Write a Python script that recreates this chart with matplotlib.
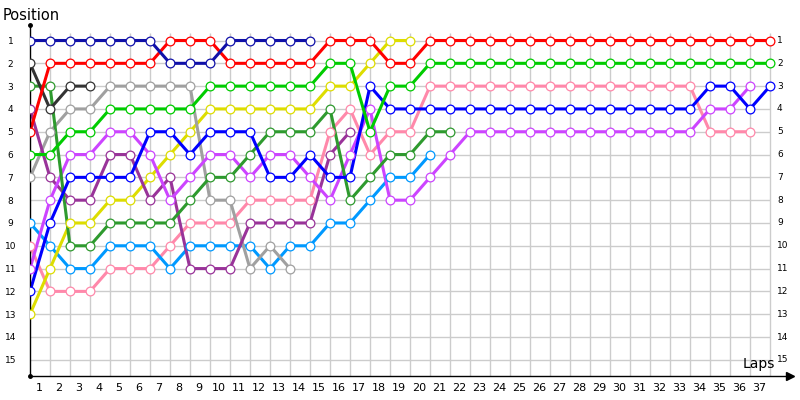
import matplotlib
matplotlib.use("Agg")
import matplotlib.pyplot as plt
import matplotlib.transforms as mtransforms

# race positions per driver, index = lap (0 = grid)
navy = [1, 1, 1, 1, 1, 1, 1, 2, 2, 2, 1, 1, 1, 1, 1]
red = [5, 2, 2, 2, 2, 2, 2, 1, 1, 1, 2, 2, 2, 2, 2, 1, 1, 1, 2, 2,
       1, 1, 1, 1, 1, 1, 1, 1, 1, 1, 1, 1, 1, 1, 1, 1, 1, 1]
dark_grey = [2, 4, 3, 3]
green = [6, 6, 5, 5, 4, 4, 4, 4, 4, 3, 3, 3, 3, 3, 3, 2, 2, 5, 3, 3,
         2, 2, 2, 2, 2, 2, 2, 2, 2, 2, 2, 2, 2, 2, 2, 2, 2, 2]
forest = [3, 3, 10, 10, 9, 9, 9, 9, 8, 7, 7, 6, 5, 5, 5, 4, 8, 7, 6, 6, 5, 5]
grey = [7, 5, 4, 4, 3, 3, 3, 3, 3, 8, 8, 11, 10, 11]
purple = [4, 7, 8, 8, 6, 6, 8, 7, 11, 11, 11, 9, 9, 9, 9, 6, 5]
violet = [11, 8, 6, 6, 5, 5, 6, 8, 7, 6, 6, 7, 6, 6, 7, 8, 6, 4, 8, 8,
          7, 6, 5, 5, 5, 5, 5, 5, 5, 5, 5, 5, 5, 5, 4, 4, 3]
blue = [12, 9, 7, 7, 7, 7, 5, 5, 6, 5, 5, 5, 7, 7, 6, 7, 7, 3, 4, 4,
        4, 4, 4, 4, 4, 4, 4, 4, 4, 4, 4, 4, 4, 4, 3, 3, 4, 3]
yellow = [13, 11, 9, 9, 8, 8, 7, 6, 5, 4, 4, 4, 4, 4, 4, 3, 3, 2, 1, 1]
light_blue = [9, 10, 11, 11, 10, 10, 10, 11, 10, 10, 10, 10, 11, 10, 10, 9, 9, 8, 7, 7, 6]
pink = [10, 12, 12, 12, 11, 11, 11, 10, 9, 9, 9, 8, 8, 8, 8, 5, 4, 6, 5, 5,
        3, 3, 3, 3, 3, 3, 3, 3, 3, 3, 3, 3, 3, 3, 5, 5, 5]

n_laps = 37
n_pos = 15

series = [
    (pink, '#ff88aa'),
    (light_blue, '#0099ff'),
    (yellow, '#dddd00'),
    (grey, '#a0a0a0'),
    (purple, '#993399'),
    (violet, '#cc44ff'),
    (forest, '#2e9a2e'),
    (blue, '#0000ff'),
    (green, '#00cc00'),
    (dark_grey, '#333333'),
    (red, '#ff0000'),
    (navy, '#1010a8'),
]

fig = plt.figure(figsize=(8, 4), dpi=100)
ax = fig.add_axes([30 / 800, 24 / 400, 760 / 800, 351 / 400])
ax.set_xlim(0, n_laps + 1)
ax.set_ylim(15.71, 0.32)

# grid
ax.hlines(range(1, n_pos + 1), 0, n_laps, color='#cccccc', lw=1, zorder=0)
ax.vlines(range(1, n_laps + 1), 0.67, 15.71, color='#cccccc', lw=1, zorder=0)

for vals, col in series:
    laps = list(range(len(vals)))
    ax.plot(laps, vals, color=col, lw=2.2, solid_joinstyle='round', zorder=2)
    ax.plot(laps, vals, ls='none', marker='o', ms=6.3, mfc='white',
            mec=col, mew=0.9, zorder=3)

for s in ['top', 'right']:
    ax.spines[s].set_visible(False)
for s in ['left', 'bottom']:
    ax.spines[s].set_color('black')
    ax.spines[s].set_linewidth(1)

ax.plot([1], [0], marker='>', color='black', ms=6, transform=ax.transAxes, clip_on=False)
ax.plot([0], [1], marker='o', color='black', ms=2.5, transform=ax.transAxes, clip_on=False)
ax.plot([0], [0], marker='o', color='black', ms=2.5, transform=ax.transAxes, clip_on=False)

ax.set_yticks(range(1, n_pos + 1))
ax.set_yticklabels([str(p) for p in range(1, n_pos + 1)], fontsize=6.5, ha='center')
ax.tick_params(axis='y', length=0, pad=14)

ax.set_xticks([k - 0.55 for k in range(1, n_laps + 1)])
ax.set_xticklabels([str(k) for k in range(1, n_laps + 1)], fontsize=8)
ax.tick_params(axis='x', length=0, pad=5)

off = mtransforms.offset_copy(ax.transData, fig=fig, x=7, y=0, units='dots')
for p in range(1, n_pos + 1):
    ax.text(n_laps, p, str(p), transform=off, fontsize=6.5, ha='left', va='center')

fig.text(3 / 800, 1 - 15 / 400, 'Position', fontsize=10.5, ha='left', va='center')
fig.text(775 / 800, 1 - 364 / 400, 'Laps', fontsize=10, ha='right', va='center')

fig.savefig('out.png', dpi=100)
